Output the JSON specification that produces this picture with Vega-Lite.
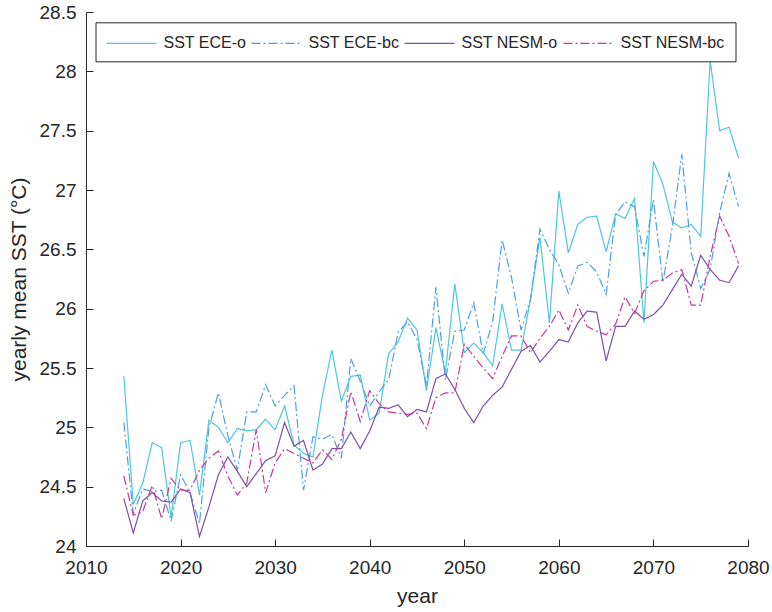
{
  "$schema": "https://vega.github.io/schema/vega-lite/v6.json",
  "width": 662,
  "height": 534,
  "autosize": {"type": "none"},
  "padding": {"left": 86, "top": 12, "right": 24, "bottom": 66},
  "background": "white",
  "config": {
    "view": {"stroke": null},
    "font": "Liberation Sans",
    "axis": {
      "domainColor": "#262626",
      "domainWidth": 1,
      "tickColor": "#262626",
      "tickSize": -7,
      "tickWidth": 1,
      "labelColor": "#262626",
      "labelFont": "Liberation Sans",
      "labelFontSize": 19,
      "labelFlush": false,
      "titleColor": "#262626",
      "titleFont": "Liberation Sans",
      "titleFontSize": 21,
      "titleFontWeight": "normal",
      "grid": false
    },
    "legend": {
      "title": null,
      "orient": "none",
      "legendX": 9.5,
      "legendY": 10.3,
      "direction": "horizontal",
      "gridAlign": "none",
      "symbolType": "M-1,0H4",
      "symbolSize": 400,
      "symbolStrokeWidth": 1.2,
      "labelFontSize": 16,
      "labelFont": "Liberation Sans",
      "labelColor": "#262626",
      "labelOffset": 36,
      "columnPadding": 2,
      "padding": 10,
      "strokeColor": "#262626",
      "fillColor": "white"
    }
  },
  "data": {
    "values": [
      {"year": 2014, "ece_o": 25.43, "ece_bc": 25.04, "nesm_o": 24.40, "nesm_bc": 24.59},
      {"year": 2015, "ece_o": 24.35, "ece_bc": 24.27, "nesm_o": 24.11, "nesm_bc": 24.26},
      {"year": 2016, "ece_o": 24.53, "ece_bc": 24.48, "nesm_o": 24.38, "nesm_bc": 24.29},
      {"year": 2017, "ece_o": 24.87, "ece_bc": 24.46, "nesm_o": 24.45, "nesm_bc": 24.51},
      {"year": 2018, "ece_o": 24.83, "ece_bc": 24.47, "nesm_o": 24.38, "nesm_bc": 24.23},
      {"year": 2019, "ece_o": 24.24, "ece_bc": 24.21, "nesm_o": 24.37, "nesm_bc": 24.57},
      {"year": 2020, "ece_o": 24.87, "ece_bc": 24.60, "nesm_o": 24.48, "nesm_bc": 24.47},
      {"year": 2021, "ece_o": 24.89, "ece_bc": 24.45, "nesm_o": 24.45, "nesm_bc": 24.47},
      {"year": 2022, "ece_o": 24.43, "ece_bc": 24.19, "nesm_o": 24.08, "nesm_bc": 24.64},
      {"year": 2023, "ece_o": 25.06, "ece_bc": 25.00, "nesm_o": 24.33, "nesm_bc": 24.74},
      {"year": 2024, "ece_o": 25.00, "ece_bc": 25.29, "nesm_o": 24.60, "nesm_bc": 24.80},
      {"year": 2025, "ece_o": 24.87, "ece_bc": 24.93, "nesm_o": 24.75, "nesm_bc": 24.59},
      {"year": 2026, "ece_o": 24.99, "ece_bc": 24.64, "nesm_o": 24.63, "nesm_bc": 24.43},
      {"year": 2027, "ece_o": 24.97, "ece_bc": 25.13, "nesm_o": 24.50, "nesm_bc": 24.53},
      {"year": 2028, "ece_o": 24.98, "ece_bc": 25.13, "nesm_o": 24.61, "nesm_bc": 24.98},
      {"year": 2029, "ece_o": 25.07, "ece_bc": 25.36, "nesm_o": 24.72, "nesm_bc": 24.45},
      {"year": 2030, "ece_o": 24.98, "ece_bc": 25.18, "nesm_o": 24.76, "nesm_bc": 24.70},
      {"year": 2031, "ece_o": 25.18, "ece_bc": 25.27, "nesm_o": 25.04, "nesm_bc": 24.82},
      {"year": 2032, "ece_o": 24.85, "ece_bc": 25.35, "nesm_o": 24.84, "nesm_bc": 24.78},
      {"year": 2033, "ece_o": 24.78, "ece_bc": 24.47, "nesm_o": 24.89, "nesm_bc": 24.74},
      {"year": 2034, "ece_o": 24.75, "ece_bc": 24.92, "nesm_o": 24.64, "nesm_bc": 24.70},
      {"year": 2035, "ece_o": 25.27, "ece_bc": 24.90, "nesm_o": 24.69, "nesm_bc": 24.81},
      {"year": 2036, "ece_o": 25.65, "ece_bc": 24.94, "nesm_o": 24.82, "nesm_bc": 24.73},
      {"year": 2037, "ece_o": 25.22, "ece_bc": 24.74, "nesm_o": 24.82, "nesm_bc": 24.90},
      {"year": 2038, "ece_o": 25.43, "ece_bc": 25.58, "nesm_o": 24.96, "nesm_bc": 25.30},
      {"year": 2039, "ece_o": 25.44, "ece_bc": 25.39, "nesm_o": 24.82, "nesm_bc": 25.05},
      {"year": 2040, "ece_o": 25.06, "ece_bc": 25.18, "nesm_o": 24.97, "nesm_bc": 25.31},
      {"year": 2041, "ece_o": 25.12, "ece_bc": 25.30, "nesm_o": 25.17, "nesm_bc": 25.20},
      {"year": 2042, "ece_o": 25.62, "ece_bc": 25.40, "nesm_o": 25.16, "nesm_bc": 25.13},
      {"year": 2043, "ece_o": 25.72, "ece_bc": 25.80, "nesm_o": 25.19, "nesm_bc": 25.12},
      {"year": 2044, "ece_o": 25.92, "ece_bc": 25.89, "nesm_o": 25.09, "nesm_bc": 25.11},
      {"year": 2045, "ece_o": 25.82, "ece_bc": 25.74, "nesm_o": 25.15, "nesm_bc": 25.12},
      {"year": 2046, "ece_o": 25.31, "ece_bc": 25.35, "nesm_o": 25.13, "nesm_bc": 24.99},
      {"year": 2047, "ece_o": 25.84, "ece_bc": 26.18, "nesm_o": 25.41, "nesm_bc": 25.25},
      {"year": 2048, "ece_o": 25.46, "ece_bc": 25.40, "nesm_o": 25.45, "nesm_bc": 25.29},
      {"year": 2049, "ece_o": 26.21, "ece_bc": 25.81, "nesm_o": 25.32, "nesm_bc": 25.29},
      {"year": 2050, "ece_o": 25.63, "ece_bc": 25.82, "nesm_o": 25.16, "nesm_bc": 25.70},
      {"year": 2051, "ece_o": 25.71, "ece_bc": 26.05, "nesm_o": 25.04, "nesm_bc": 25.60},
      {"year": 2052, "ece_o": 25.63, "ece_bc": 25.62, "nesm_o": 25.18, "nesm_bc": 25.50},
      {"year": 2053, "ece_o": 25.52, "ece_bc": 25.89, "nesm_o": 25.27, "nesm_bc": 25.41},
      {"year": 2054, "ece_o": 26.04, "ece_bc": 26.58, "nesm_o": 25.34, "nesm_bc": 25.60},
      {"year": 2055, "ece_o": 25.65, "ece_bc": 26.26, "nesm_o": 25.49, "nesm_bc": 25.77},
      {"year": 2056, "ece_o": 25.65, "ece_bc": 25.82, "nesm_o": 25.64, "nesm_bc": 25.77},
      {"year": 2057, "ece_o": 26.08, "ece_bc": 26.08, "nesm_o": 25.69, "nesm_bc": 25.63},
      {"year": 2058, "ece_o": 26.60, "ece_bc": 26.67, "nesm_o": 25.55, "nesm_bc": 25.75},
      {"year": 2059, "ece_o": 25.88, "ece_bc": 26.50, "nesm_o": 25.64, "nesm_bc": 25.85},
      {"year": 2060, "ece_o": 26.99, "ece_bc": 26.37, "nesm_o": 25.74, "nesm_bc": 25.99},
      {"year": 2061, "ece_o": 26.47, "ece_bc": 26.13, "nesm_o": 25.72, "nesm_bc": 25.82},
      {"year": 2062, "ece_o": 26.71, "ece_bc": 26.36, "nesm_o": 25.88, "nesm_bc": 26.03},
      {"year": 2063, "ece_o": 26.77, "ece_bc": 26.39, "nesm_o": 25.98, "nesm_bc": 25.85},
      {"year": 2064, "ece_o": 26.78, "ece_bc": 26.31, "nesm_o": 25.97, "nesm_bc": 25.81},
      {"year": 2065, "ece_o": 26.48, "ece_bc": 26.12, "nesm_o": 25.56, "nesm_bc": 25.78},
      {"year": 2066, "ece_o": 26.80, "ece_bc": 26.79, "nesm_o": 25.85, "nesm_bc": 25.87},
      {"year": 2067, "ece_o": 26.76, "ece_bc": 26.90, "nesm_o": 25.85, "nesm_bc": 26.10},
      {"year": 2068, "ece_o": 26.93, "ece_bc": 26.86, "nesm_o": 25.98, "nesm_bc": 25.96},
      {"year": 2069, "ece_o": 25.88, "ece_bc": 26.44, "nesm_o": 25.91, "nesm_bc": 26.15},
      {"year": 2070, "ece_o": 27.24, "ece_bc": 26.92, "nesm_o": 25.95, "nesm_bc": 26.23},
      {"year": 2071, "ece_o": 27.05, "ece_bc": 26.22, "nesm_o": 26.03, "nesm_bc": 26.24},
      {"year": 2072, "ece_o": 26.73, "ece_bc": 26.69, "nesm_o": 26.16, "nesm_bc": 26.30},
      {"year": 2073, "ece_o": 26.68, "ece_bc": 27.30, "nesm_o": 26.29, "nesm_bc": 26.33},
      {"year": 2074, "ece_o": 26.71, "ece_bc": 26.47, "nesm_o": 26.19, "nesm_bc": 26.03},
      {"year": 2075, "ece_o": 26.61, "ece_bc": 26.17, "nesm_o": 26.45, "nesm_bc": 26.03},
      {"year": 2076, "ece_o": 28.09, "ece_bc": 26.33, "nesm_o": 26.33, "nesm_bc": 26.44},
      {"year": 2077, "ece_o": 27.50, "ece_bc": 26.81, "nesm_o": 26.24, "nesm_bc": 26.78},
      {"year": 2078, "ece_o": 27.53, "ece_bc": 27.14, "nesm_o": 26.22, "nesm_bc": 26.61},
      {"year": 2079, "ece_o": 27.27, "ece_bc": 26.86, "nesm_o": 26.36, "nesm_bc": 26.38}
    ]
  },
  "transform": [
    {"fold": ["ece_o", "ece_bc", "nesm_o", "nesm_bc"], "as": ["series", "sst"]}
  ],
  "mark": {"type": "line", "strokeWidth": 1.2},
  "encoding": {
    "x": {
      "field": "year",
      "type": "quantitative",
      "scale": {"domain": [2010, 2080], "nice": false, "zero": false},
      "axis": {
        "values": [2010, 2020, 2030, 2040, 2050, 2060, 2070, 2080],
        "format": "d",
        "title": "year",
        "labelPadding": 19,
        "titlePadding": 8
      }
    },
    "y": {
      "field": "sst",
      "type": "quantitative",
      "scale": {"domain": [24, 28.5], "nice": false, "zero": false},
      "axis": {
        "values": [24, 24.5, 25, 25.5, 26, 26.5, 27, 27.5, 28, 28.5],
        "format": ".1~f",
        "title": "yearly mean SST (°C)",
        "labelPadding": 17,
        "titlePadding": 10
      }
    },
    "color": {
      "field": "series",
      "type": "nominal",
      "scale": {
        "domain": ["ece_o", "ece_bc", "nesm_o", "nesm_bc"],
        "range": ["#4fc6dc", "#4f9fe0", "#7d4fa6", "#c13c9e"]
      },
      "legend": {
        "labelExpr": "datum.label == 'ece_o' ? 'SST ECE-o' : datum.label == 'ece_bc' ? 'SST ECE-bc' : datum.label == 'nesm_o' ? 'SST NESM-o' : 'SST NESM-bc'"
      }
    },
    "strokeDash": {
      "field": "series",
      "type": "nominal",
      "scale": {
        "domain": ["ece_o", "ece_bc", "nesm_o", "nesm_bc"],
        "range": [[1, 0], [9, 3, 2, 3], [1, 0], [9, 3, 2, 3]]
      },
      "legend": {
        "labelExpr": "datum.label == 'ece_o' ? 'SST ECE-o' : datum.label == 'ece_bc' ? 'SST ECE-bc' : datum.label == 'nesm_o' ? 'SST NESM-o' : 'SST NESM-bc'"
      }
    }
  }
}
